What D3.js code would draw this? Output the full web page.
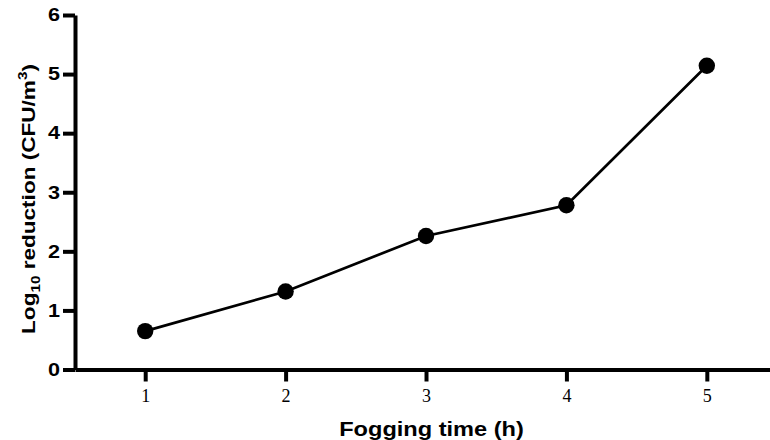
<!DOCTYPE html>
<html>
<head>
<meta charset="utf-8">
<script src="https://cdn.jsdelivr.net/npm/d3@7"></script>
<style>
  html, body { margin: 0; padding: 0; background: #fff; }
  svg { display: block; }
</style>
</head>
<body>
<svg id="chart" width="770" height="440"></svg>
<script>
// Log10 reduction of airborne CFU after each hour of fogging
const foggingHours = [1, 2, 3, 4, 5];
const logReduction = [0.65, 1.32, 2.26, 2.78, 5.14];
const yTicks = [0, 1, 2, 3, 4, 5, 6];

const svg = d3.select("#chart");
const plotLeft = 75, plotRight = 770, plotTop = 15, plotBottom = 369.5;
const sans = "'Liberation Sans', Arial, sans-serif";
const serif = "'Liberation Serif', 'Times New Roman', serif";
const wide = 1.2; // horizontal stretch of the sans-serif lettering

const x = d3.scaleLinear().domain([0.5, 5.45]).range([plotLeft, plotRight]);
const y = d3.scaleLinear().domain([0, 6]).range([plotBottom, plotTop]);

// y axis
const yAxis = svg.append("g")
  .attr("transform", `translate(${plotLeft},0)`)
  .call(d3.axisLeft(y).tickValues(yTicks).tickFormat(d3.format("d"))
    .tickSize(12).tickPadding(3).tickSizeOuter(0));
yAxis.select(".domain").attr("stroke", "#000").attr("stroke-width", 4);
yAxis.selectAll(".tick line").attr("stroke", "#000").attr("stroke-width", 4);
yAxis.selectAll(".tick text")
  .attr("fill", "#000")
  .attr("x", -15 / wide)
  .attr("transform", `scale(${wide},1)`)
  .style("font-family", sans)
  .style("font-weight", "bold")
  .style("font-size", "18px");

// x axis
const xAxis = svg.append("g")
  .attr("transform", `translate(0,${plotBottom})`)
  .call(d3.axisBottom(x).tickValues(foggingHours).tickFormat(d3.format("d"))
    .tickSize(12).tickPadding(8).tickSizeOuter(0));
xAxis.select(".domain").attr("stroke", "#000").attr("stroke-width", 4);
xAxis.selectAll(".tick line").attr("stroke", "#000").attr("stroke-width", 4);
xAxis.selectAll(".tick text")
  .attr("fill", "#000")
  .style("font-family", serif)
  .style("font-size", "18px");

// series line and markers
const pts = foggingHours.map((h, i) => [h, logReduction[i]]);
svg.append("path")
  .datum(pts)
  .attr("fill", "none")
  .attr("stroke", "#000")
  .attr("stroke-width", 2.7)
  .attr("d", d3.line().x(d => x(d[0])).y(d => y(d[1])));

svg.append("g").selectAll("circle")
  .data(pts)
  .join("circle")
  .attr("cx", d => x(d[0]))
  .attr("cy", d => y(d[1]))
  .attr("r", 8.2)
  .attr("fill", "#000");

// axis titles
svg.append("text")
  .attr("transform", "translate(431.5,436) scale(1.21,1)")
  .attr("text-anchor", "middle")
  .style("font-family", sans)
  .style("font-weight", "bold")
  .style("font-size", "19.5px")
  .text("Fogging time (h)");

const yTitle = svg.append("text")
  .attr("transform", "translate(35,199) rotate(-90) scale(1.22,1)")
  .attr("text-anchor", "middle")
  .style("font-family", sans)
  .style("font-weight", "bold")
  .style("font-size", "18.5px");
yTitle.append("tspan").text("Log");
yTitle.append("tspan").attr("dy", 5).style("font-size", "12.5px").text("10");
yTitle.append("tspan").attr("dy", -5).text(" reduction (CFU/m");
yTitle.append("tspan").attr("dy", -8).style("font-size", "12.5px").text("3");
yTitle.append("tspan").attr("dy", 8).text(")");
</script>
</body>
</html>
